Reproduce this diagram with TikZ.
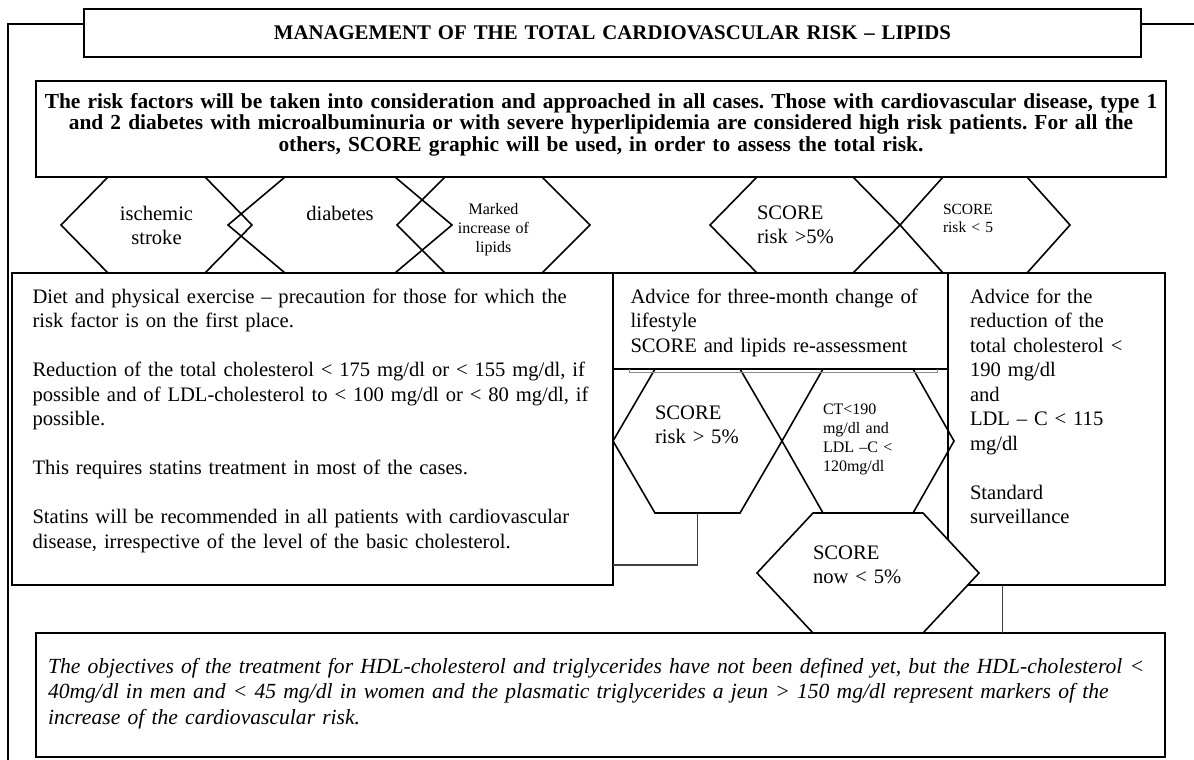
\documentclass[tikz,border=0pt]{standalone}
\usepackage{fontspec}
\setmainfont{Liberation Serif}
\frenchspacing
\usetikzlibrary{calc}
\pgfdeclarelayer{front}
\pgfsetlayers{main,front}
\tikzset{
  panel/.style={draw, line width=1.8pt, anchor=north west, inner ysep=0pt, outer sep=0pt},
  hexa/.style={anchor=north west, inner sep=0pt, outer sep=0pt, align=left},
  hexline/.style={line width=1.6pt},
  frame/.style={line width=1.8pt},
  link/.style={line width=1.2pt, black!75},
  smalltext/.style={font=\fontsize{16}{19}\selectfont},
}
\newcommand{\hexframe}[3][]{\draw[hexline,#1] (#2.north west) -- (#2.north east) -- ($(#2.east)+(#3,0)$) -- (#2.south east) -- (#2.south west) -- ($(#2.west)-(#3,0)$) -- cycle;}
\begin{document}
\begin{tikzpicture}[x=1pt,y=-1pt,font=\fontsize{20.6}{24.5}\selectfont]
  \useasboundingbox (0,0) rectangle (1194,760);
  \node[panel, inner xsep=0pt, text width=1057pt, text height=31pt, text depth=17pt, align=center,
    font=\bfseries\fontsize{20.8}{25}\selectfont] (title) at (84,9)
    {MANAGEMENT OF THE TOTAL CARDIOVASCULAR RISK – LIPIDS};
  \node[panel, inner xsep=3pt, text width=1124pt, text height=27pt, text depth=69pt, align=center,
    font=\bfseries\fontsize{21.4}{21.5}\selectfont] (risk) at (36,81)
    {The risk factors will be taken into consideration and approached in all cases. Those with cardiovascular disease, type 1\\
     and 2 diabetes with microalbuminuria or with severe hyperlipidemia are considered high risk patients. For all the\\
     others, SCORE graphic will be used, in order to assess the total risk.};
  \node[panel, inner xsep=20.5pt, text width=560pt, text height=30pt, text depth=282pt, align=left] (diet) at (12,273)
    {Diet and physical exercise – precaution for those for which the\\
     risk factor is on the first place.\\[24.5pt]
     Reduction of the total cholesterol < 175 mg/dl or < 155 mg/dl, if\\
     possible and of LDL-cholesterol to < 100 mg/dl or < 80 mg/dl, if\\
     possible.\\[24.5pt]
     This requires statins treatment in most of the cases.\\[24.5pt]
     Statins will be recommended in all patients with cardiovascular\\
     disease, irrespective of the level of the basic cholesterol.};
  \node[panel, inner xsep=17.5pt, text width=300pt, text height=30pt, text depth=66pt, align=left] (adv) at (613,273)
    {Advice for three-month change of\\ lifestyle\\ SCORE and lipids re-assessment};
  \node[panel, inner xsep=22pt, text width=173pt, text height=30pt, text depth=282pt, align=left] (std) at (948,273)
    {Advice for the\\ reduction of the\\ total cholesterol <\\ 190 mg/dl\\ and\\ LDL – C < 115\\ mg/dl\\[24.5pt]
     Standard\\ surveillance};
  \node[panel, inner xsep=12pt, text width=1105pt, text height=40pt, text depth=84pt, align=left,
    font=\itshape\fontsize{21.6}{25.5}\selectfont] (note) at (36,633)
    {The objectives of the treatment for HDL-cholesterol and triglycerides have not been defined yet, but the HDL-cholesterol <\\
     40mg/dl in men and < 45 mg/dl in women and the plasmatic triglycerides a jeun > 150 mg/dl represent markers of the\\
     increase of the cardiovascular risk.};

  \node[hexa, align=center, text width=97pt, text height=43pt, text depth=53pt] (isch) at (108,177) {ischemic\\ stroke};
  \node[hexa, align=center, text width=110pt, text height=43pt, text depth=53pt] (diab) at (285,177) {diabetes};
  \node[hexa, align=center, smalltext, text width=97pt, text height=37.5pt, text depth=58.5pt] (lipid) at (445,177)
    {Marked\\ increase~of\\ lipids};
  \node[hexa, text width=96pt, text height=42pt, text depth=54pt] (hrisk) at (757,177) {SCORE\\ risk~>5\%};
  \node[hexa, font=\fontsize{15.5}{18}\selectfont, text width=84pt, text height=37.5pt, text depth=58.5pt] (lrisk) at (943,177)
    {SCORE\\ risk~<~5};
  \node[hexa, text width=85pt, text height=50pt, text depth=94pt] (recheck) at (655,369) {SCORE\\ risk~>~5\%};
  \node[hexa, smalltext, text width=90pt, text height=45.5pt, text depth=98.5pt] (target) at (823,369)
    {CT<190\\ mg/dl~and\\ LDL~–C~<\\ 120mg/dl};
  \hexframe{isch}{47}
  \hexframe{diab}{57}
  \hexframe{lipid}{48}
  \hexframe{hrisk}{47}
  \hexframe{lrisk}{43}
  \hexframe{recheck}{42}
  \hexframe{target}{41}

  \draw[link] (recheck.south) |- ($(diet.south east)+(0,-20)$);
  \draw[link] ($(std.south west)!0.25!(std.south east)$) coordinate (s1) -- (s1 |- note.north);
  \draw[line width=0.8pt, black!45] ($(adv.south west)+(16,0)$) -- ++(0,3) -| ($(adv.south east)+(-11,0)$);

  \begin{pgfonlayer}{front}
    \node[hexa, text width=110pt, text height=46pt, text depth=74pt] (now) at (813,513) {SCORE\\ now~<~5\%};
  \end{pgfonlayer}
  \hexframe[fill=white]{now}{56}

  \coordinate (fl) at (8,762);
  \coordinate (fr) at (1196,24);
  \draw[frame] ($(title.north west)+(0,15)$) -| (fl);
  \draw[frame] ($(title.north east)+(0,15)$) -- (fr);
\end{tikzpicture}
\end{document}
